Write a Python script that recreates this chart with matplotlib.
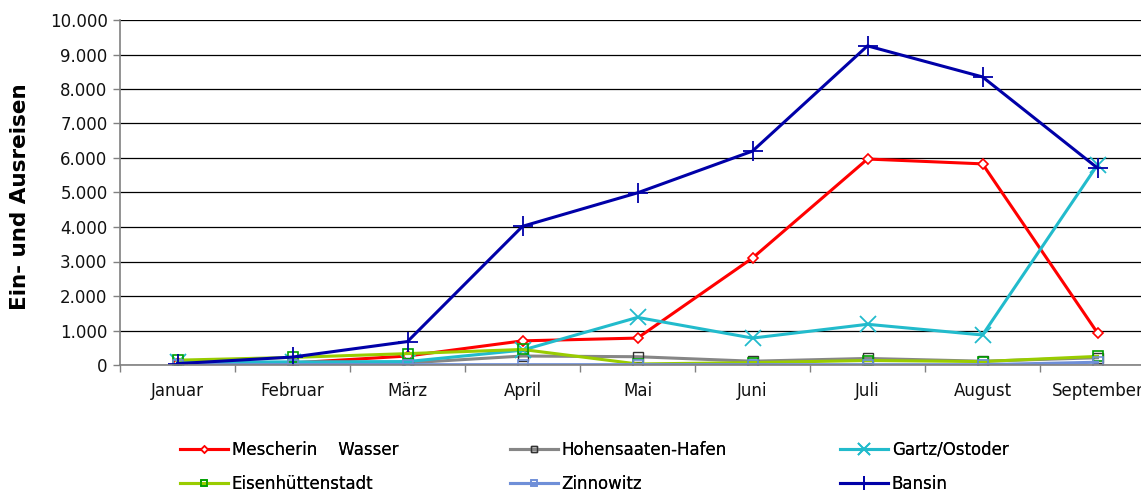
import matplotlib.pyplot as plt
from matplotlib.ticker import FixedLocator, FuncFormatter

months = ["Januar", "Februar", "März", "April", "Mai", "Juni", "Juli", "August", "September"]

mescherin = [50, 60, 260, 700, 780, 3100, 5970, 5830, 930]
hohensaaten = [20, 40, 60, 260, 240, 110, 190, 110, 210]
gartz = [80, 90, 100, 430, 1380, 780, 1180, 870, 5800]
eisenhuettenstadt = [140, 220, 330, 450, 30, 70, 130, 100, 250]
zinnowitz = [10, 10, 10, 10, 10, 10, 10, 10, 80]
bansin = [40, 230, 680, 4020, 4990, 6200, 9250, 8350, 5710]

x = range(len(months))

fig = plt.figure(figsize=(11.41, 4.92), dpi=100)
ax = fig.add_axes([120/1141, 1-365/492, 1035/1141, 345/492])

lw = 2.2
l1, = ax.plot(x, mescherin, color="#FF0000", lw=lw, marker="D", ms=5, mfc="white", mec="#FF0000", mew=1.2, label="Mescherin    Wasser")
l2, = ax.plot(x, hohensaaten, color="#868686", lw=lw, marker="s", ms=7, mfc="none", mec="#333333", mew=1.0, label="Hohensaaten-Hafen")
l3, = ax.plot(x, gartz, color="#22BBCC", lw=lw, marker="x", ms=12, mew=1.3, label="Gartz/Ostoder")
l4, = ax.plot(x, eisenhuettenstadt, color="#99CC00", lw=lw, marker="s", ms=7, mfc="none", mec="#00A000", mew=1.2, label="Eisenhüttenstadt")
l5, = ax.plot(x, zinnowitz, color="#6F8FD8", lw=lw, marker="s", ms=7, mfc="none", mec="#6F8FD8", mew=1.2, label="Zinnowitz")
l6, = ax.plot(x, bansin, color="#0000A8", lw=lw, marker="+", ms=14, mew=1.3, label="Bansin")

ax.set_xlim(-0.5, 8.5)
ax.set_ylim(0, 10000)
ax.yaxis.set_major_locator(FixedLocator(range(0, 10001, 1000)))
ax.yaxis.set_major_formatter(FuncFormatter(lambda v, p: f"{int(v):,}".replace(",", ".")))
ax.set_xticks(list(x))
ax.set_xticklabels(months)
ax.set_xticks([i + 0.5 for i in range(-1, 9)], minor=True)
ax.tick_params(axis="x", which="major", length=0, pad=12, labelsize=12)
ax.tick_params(axis="x", which="minor", length=5, color="#808080", width=1)
ax.tick_params(axis="y", length=5, color="#808080", width=1, labelsize=12, pad=4)
for t in ax.get_xticklabels() + ax.get_yticklabels():
    t.set_color("#111111")

ax.grid(axis="y", color="black", lw=0.9)
ax.set_axisbelow(True)
for s in ["top", "right"]:
    ax.spines[s].set_visible(False)
ax.spines["left"].set_color("#808080")
ax.spines["bottom"].set_color("#808080")
ax.spines["left"].set_linewidth(1.2)
ax.spines["bottom"].set_linewidth(1.2)

fig.text(20/1141, 1-197/492, "Ein- und Ausreisen", rotation=90, fontsize=15.5, fontweight="bold",
         ha="center", va="center")

cols = [(l1, l4), (l2, l5), (l3, l6)]
xs = [180, 510, 840]
for (a, b), xp in zip(cols, xs):
    leg = fig.legend([a, b], [a.get_label(), b.get_label()], loc="upper left",
                     bbox_to_anchor=(xp/1141, 1-441/492), frameon=False, fontsize=12,
                     handlelength=2.9, handletextpad=0.2, labelspacing=0.95, markerscale=0.7,
                     borderpad=0, borderaxespad=0)
    fig.add_artist(leg)

fig.savefig("out.png", dpi=100)
